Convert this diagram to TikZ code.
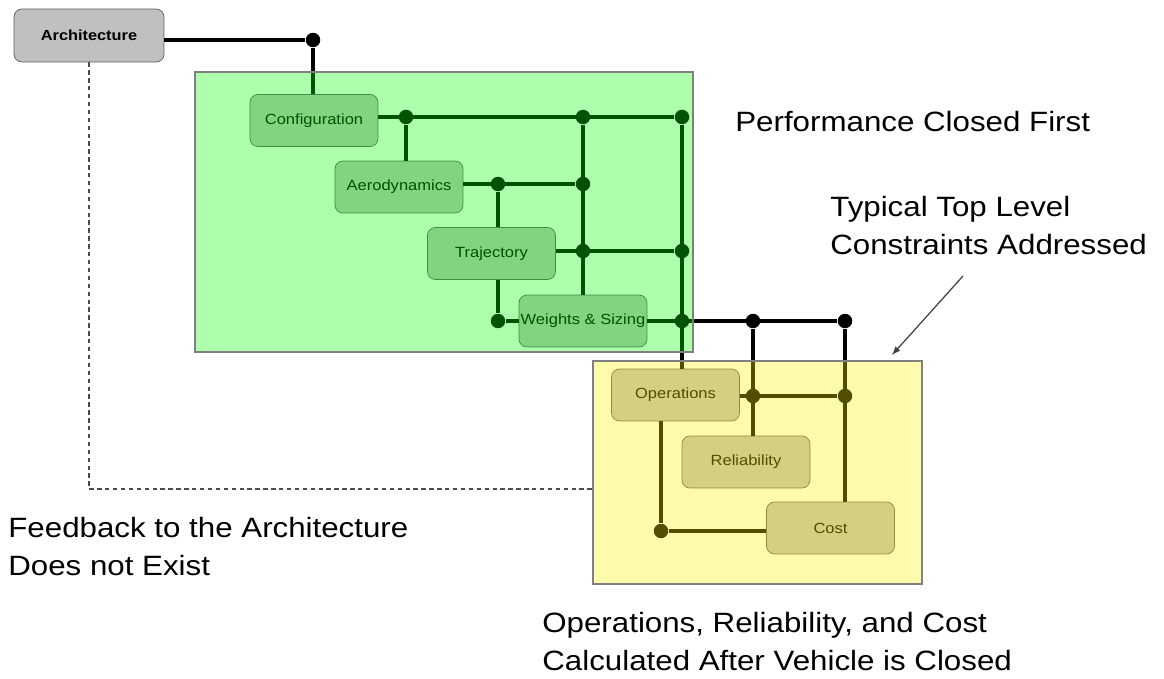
\documentclass[tikz,border=0pt]{standalone}
\usepackage{fontspec}
\setmainfont[FakeStretch=1.12]{Liberation Sans}
\definecolor{boxgray}{RGB}{192,192,192}
\definecolor{boxedge}{RGB}{90,90,90}
\tikzset{
  module/.style={draw=boxedge, fill=boxgray, rounded corners=4.5pt, minimum width=2.56cm, minimum height=1.04cm, inner sep=0pt, font=\fontsize{8.4}{10}\selectfont},
  jdot/.style={circle, fill=black, inner sep=0pt, minimum size=0.29cm},
  wire/.style={line width=2pt},
  note/.style={anchor=north west, inner sep=0pt, align=left, font=\fontsize{15.9}{21.5}\selectfont},
  region/.style={draw=gray, line width=0.8pt, fill opacity=0.32}
}
\begin{document}
\begin{tikzpicture}[x=0.02cm, y=-0.02cm]
\useasboundingbox (0,0) rectangle (1164,679);
\node[module, minimum width=3cm, minimum height=1.06cm, font=\fontsize{8.3}{10}\selectfont\bfseries] (arch) at (89,35.5) {Architecture};
\node[module] (conf) at (314,120.5) {Configuration};
\node[module] (aero) at (399,187) {Aerodynamics};
\node[module] (traj) at (491.5,253.5) {Trajectory};
\node[module] (wts) at (583,321) {Weights \& Sizing};
\node[module] (ops) at (675.5,395) {Operations};
\node[module] (rel) at (746,462) {Reliability};
\node[module] (cost) at (830.5,528) {Cost};
\node[jdot] (a1) at (313,40) {};
\node[jdot] (t1) at (406,117) {};
\node[jdot] (t2) at (583,117) {};
\node[jdot] (t3) at (682,117) {};
\node[jdot] (m1) at (498,184) {};
\node[jdot] (m2) at (583,184) {};
\node[jdot] (r1) at (583,251) {};
\node[jdot] (r2) at (682,251) {};
\node[jdot] (w1) at (498,321) {};
\node[jdot] (w2) at (682,321) {};
\node[jdot] (w3) at (753,321) {};
\node[jdot] (w4) at (845,321) {};
\node[jdot] (o1) at (753,396) {};
\node[jdot] (o2) at (845,396) {};
\node[jdot] (k1) at (661,531) {};
\coordinate (fb) at (593,489);
\coordinate (tail) at (963,276);
\coordinate (tip) at (892,355);
\draw[wire] (a1 -| arch.east) -- (a1) -- (a1 |- conf.north);
\draw[wire] (t1 -| conf.east) -- (t3);
\draw[wire] (t1) -- (t1 |- aero.north);
\draw[wire] (t2) -- (t2 |- wts.north);
\draw[wire] (t3) -- (t3 |- ops.north);
\draw[wire] (m1 -| aero.east) -- (m2);
\draw[wire] (m1) -- (m1 |- traj.north);
\draw[wire] (r1 -| traj.east) -- (r2);
\draw[wire] (w1 |- traj.south) -- (w1) -- (w1 -| wts.west);
\draw[wire] (w2 -| wts.east) -- (w4);
\draw[wire] (w3) -- (w3 |- rel.north);
\draw[wire] (w4) -- (w4 |- cost.north);
\draw[wire] (o1 -| ops.east) -- (o2);
\draw[wire] (k1 |- ops.south) -- (k1) -- (k1 -| cost.west);
\draw[black!70, line width=0.6pt, dash pattern=on 2.5pt off 2pt] (arch.south) |- (fb);
\draw[region, fill=green] (195,72) rectangle (693,352);
\draw[region, fill=yellow] (593,361) rectangle (922,584);
\node[note] (perf) at (735,111) {Performance Closed First};
\node[note] (typ) at (830,196) {Typical Top Level\\Constraints Addressed};
\node[note] (feed) at (8,517) {Feedback to the Architecture\\Does not Exist};
\node[note] (calc) at (542,612) {Operations, Reliability, and Cost\\Calculated After Vehicle is Closed};
\draw[black!75, line width=0.7pt, -latex] (tail) -- (tip);
\end{tikzpicture}
\end{document}
